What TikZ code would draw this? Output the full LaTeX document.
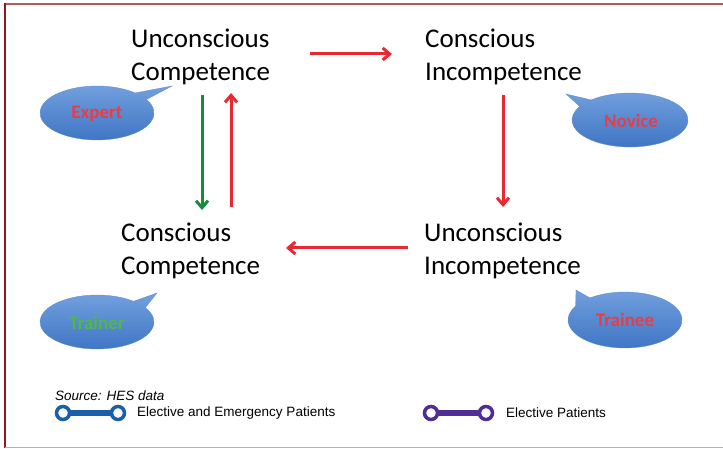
\documentclass[tikz,border=0pt]{standalone}
\usepackage{fontspec}
\setmainfont{Carlito}
\newfontfamily\legendfont{Liberation Sans}
\usetikzlibrary{arrows.meta,calc}
\definecolor{frametop}{RGB}{180,90,95}
\definecolor{frameleft}{RGB}{140,30,35}
\definecolor{framebot}{RGB}{225,160,160}
\definecolor{arrred}{RGB}{232,40,50}
\definecolor{arrgreen}{RGB}{20,140,60}
\definecolor{bubtop}{RGB}{115,160,222}
\definecolor{bubbot}{RGB}{60,115,195}
\definecolor{bubedge}{RGB}{90,140,205}
\definecolor{txtred}{RGB}{235,60,70}
\definecolor{txtgreen}{RGB}{80,185,70}
\definecolor{legblue}{RGB}{25,95,170}
\definecolor{legpurple}{RGB}{80,45,150}
\begin{document}
\begin{tikzpicture}[x=1pt,y=-1pt,
  stage/.style={font=\fontsize{27}{33}\selectfont, align=left, inner sep=0pt, anchor=north west},
  redarrow/.style={draw=arrred, line width=3pt, -{Straight Barb[length=7pt,width=12pt]}},
  greenarrow/.style={draw=arrgreen, line width=3pt, -{Straight Barb[length=7pt,width=12pt]}},
  bubble/.style={top color=bubtop, bottom color=bubbot, draw=bubedge, line width=0.3pt},
  bubtext/.style={font=\fontsize{19}{22}\selectfont\bfseries, inner sep=0pt},
  legtext/.style={font=\legendfont\fontsize{13.5}{15}\selectfont, anchor=west, inner sep=0pt},
  dumbbar/.style={line width=6pt},
  dumbend/.style={line width=3.5pt, fill=white},
]
\useasboundingbox (0,0) rectangle (723,449);
\fill[white] (0,0) rectangle (723,449);
% frame
\draw[frametop, line width=2pt] (4,4) -- (723,4);
\draw[frameleft, line width=2pt] (5,3) -- (5,448);
\draw[framebot, line width=1.5pt] (5,447.5) -- (723,447.5);

% stage texts
\node[stage] (uc) at (131,29) {Unconscious\\Competence};
\node[stage] (ci) at (425,29) {Conscious\\Incompetence};
\node[stage] (cc) at (121,223) {Conscious\\Competence};
\node[stage] (ui) at (424,223) {Unconscious\\Incompetence};

% arrow coordinates
\coordinate (a1s) at (310,54); \coordinate (a1e) at (392,54);
\coordinate (a2s) at (503,95); \coordinate (a2e) at (503,207);
\coordinate (a3s) at (408,248); \coordinate (a3e) at (286,248);
\coordinate (a4s) at (202,95); \coordinate (a4e) at (202,210);
\coordinate (a5s) at (231,207); \coordinate (a5e) at (231,93);
\draw[redarrow] (a1s) -- (a1e);
\draw[redarrow] (a2s) -- (a2e);
\draw[redarrow] (a3s) -- (a3e);
\draw[greenarrow] (a4s) -- (a4e);
\draw[redarrow] (a5s) -- (a5e);

% bubbles
% Expert
\path[bubble] ($(97,113)+(-48:57 and 27)$) -- (172,86) -- ($(97,113)+(-30:57 and 27)$)
  arc[start angle=-30, end angle=312, x radius=57, y radius=27] -- cycle;
\node[bubtext, text=txtred] (expert) at (97,114) {Expert};
% Trainer
\path[bubble] ($(97,322)+(-50:57 and 27)$) -- (157,293) -- ($(97,322)+(-32:57 and 27)$)
  arc[start angle=-32, end angle=310, x radius=57, y radius=27] -- cycle;
\node[bubtext, text=txtgreen] (trainer) at (97,323) {Trainer};
% Novice
\path[bubble] ($(630,120)+(-150:58 and 27)$) -- (566,94) -- ($(630,120)+(-132:58 and 27)$)
  arc[start angle=-132, end angle=210, x radius=58, y radius=27] -- cycle;
\node[bubtext, text=txtred] (novice) at (631,121) {Novice};
% Trainee
\path[bubble] ($(625,320)+(-150:57 and 28)$) -- (576,290) -- ($(625,320)+(-128:57 and 28)$)
  arc[start angle=-128, end angle=210, x radius=57, y radius=28] -- cycle;
\node[bubtext, text=txtred] (trainee) at (625,320) {Trainee};

% legend
\node[legtext, font=\legendfont\itshape\fontsize{13.5}{15}\selectfont] (src) at (55,396) {Source: HES data};
\coordinate (b1) at (63,413); \coordinate (b2) at (118,413);
\draw[dumbbar, legblue] (b1) -- (b2);
\draw[dumbend, draw=legblue] (b1) circle (6.5);
\draw[dumbend, draw=legblue] (b2) circle (6.5);
\node[legtext] (l1) at (137,413) {Elective and Emergency Patients};
\coordinate (p1) at (431,413); \coordinate (p2) at (486,413);
\draw[dumbbar, legpurple] (p1) -- (p2);
\draw[dumbend, draw=legpurple] (p1) circle (6.5);
\draw[dumbend, draw=legpurple] (p2) circle (6.5);
\node[legtext] (l2) at (506,413) {Elective Patients};
\end{tikzpicture}
\end{document}
